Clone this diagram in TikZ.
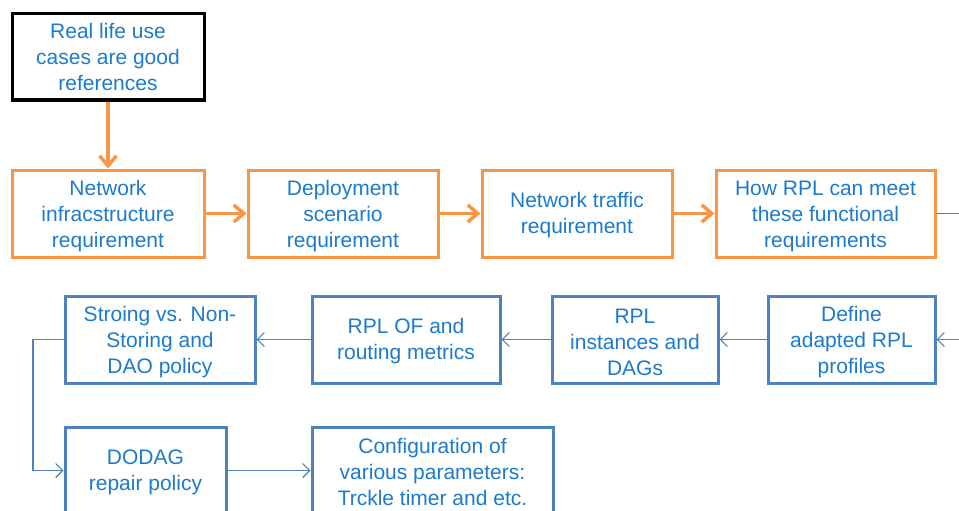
\documentclass[tikz,border=0pt]{standalone}
\usepackage{fontspec}
\setmainfont{Liberation Sans}
\usetikzlibrary{arrows.meta}
\definecolor{txtblue}{HTML}{1C7BCA}
\definecolor{boxblue}{HTML}{4F81BD}
\definecolor{boxorange}{HTML}{F79646}
\tikzset{
  x=1pt, y=-1pt,
  stage/.style={draw, line width=3pt, fill=white, inner sep=0pt},
  boxtext/.style={text=txtblue, align=center, inner sep=0pt,
    font=\fontsize{21}{26}\selectfont},
  % caption centred in its box, lowered by #1
  says/.style 2 args={label={[boxtext, yshift=-#1]center:{#2}}},
  topbox/.style={stage, draw=black},
  orbox/.style={stage, draw=boxorange},
  blbox/.style={stage, draw=boxblue},
  orlink/.style={draw=boxorange, line width=3.5pt,
    -{Straight Barb[length=10pt,width=17pt,line width=3.5pt]}},
  bllink/.style={draw=boxblue, line width=1.1pt,
    -{Straight Barb[length=7pt,width=14pt,line width=1.1pt]}},
  blline/.style={draw=boxblue, line width=1.1pt}
}
\begin{document}
\begin{tikzpicture}
\clip (0,0) rectangle (959,511);
\fill[white] (0,0) rectangle (959,511);

% first row
\node[topbox, minimum width=192pt, minimum height=86pt,
  says={0pt}{Real life use\\cases are good\\references}] (real) at (108,57) {};
\node[orbox, minimum width=192pt, minimum height=87pt,
  says={2.5pt}{Network\\infracstructure\\requirement}] (infra) at (108,213.5) {};
\node[orbox, minimum width=190pt, minimum height=87pt,
  says={2.5pt}{Deployment\\scenario\\requirement}] (deploy) at (343,213.5) {};
\node[orbox, minimum width=190pt, minimum height=87pt,
  says={2pt}{Network traffic\\requirement}] (traffic) at (577,213.5) {};
\node[orbox, minimum width=219pt, minimum height=87pt,
  says={2.5pt}{How RPL can meet\\these functional\\requirements}] (howrpl) at (825.5,213.5) {};

% second row
\node[blbox, minimum width=167pt, minimum height=87pt,
  says={3pt}{Define\\adapted RPL\\profiles}] (define) at (851.5,339.5) {};
\node[blbox, minimum width=166pt, minimum height=87pt,
  says={3pt}{RPL\\instances and\\DAGs}] (inst) at (635,339.5) {};
\node[blbox, minimum width=188pt, minimum height=87pt,
  says={2pt}{RPL OF and\\routing metrics}] (of) at (406,339.5) {};
\node[blbox, minimum width=190pt, minimum height=87pt,
  says={3pt}{Stroing vs. Non-\\Storing and\\DAO policy}] (storing) at (160,339.5) {};

% third row
\node[blbox, minimum width=161pt, minimum height=87pt,
  says={2pt}{DODAG\\repair policy}] (repair) at (145.5,470.5) {};
\node[blbox, minimum width=241pt, minimum height=89pt,
  says={0pt}{Configuration of\\various parameters:\\Trckle timer and etc.}] (config) at (432.5,471.5) {};

% links leaving and entering at the right edge
\coordinate (outR) at (959,213.5);
\coordinate (inR) at (959,339.5);
\coordinate (bend1) at (33,339.5);
\coordinate (bend2) at (33,470.5);

\draw[orlink] (real) -- (infra);
\draw[orlink] (infra) -- (deploy);
\draw[orlink] (deploy) -- (traffic);
\draw[orlink] (traffic) -- (howrpl);
\draw[blline] (howrpl.east) -- (outR);
\draw[bllink] (inR) -- (define.east);
\draw[bllink] (define) -- (inst);
\draw[bllink] (inst) -- (of);
\draw[bllink] (of) -- (storing);
\draw[bllink] (storing.west) -- (bend1) -- (bend2) -- (repair.west);
\draw[bllink] (repair.east) -- (config.west |- repair.east);
\end{tikzpicture}
\end{document}
